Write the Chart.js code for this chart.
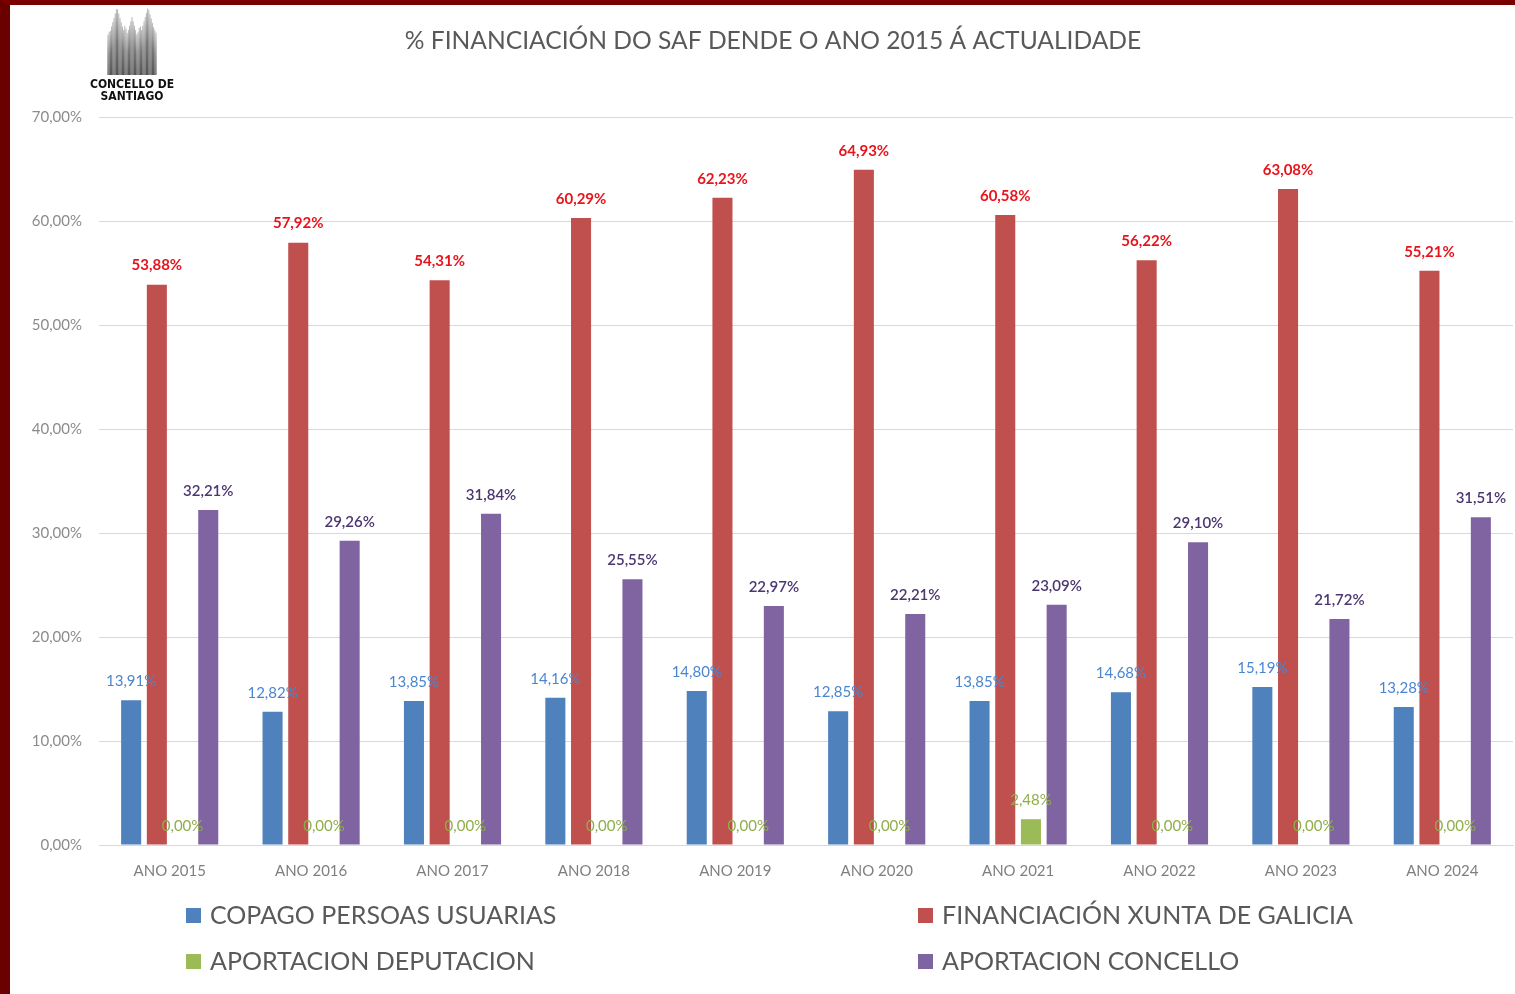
<!DOCTYPE html>
<html>
<head>
<meta charset="utf-8">
<title>Financiación SAF</title>
<script src="https://cdn.jsdelivr.net/npm/chart.js@4/dist/chart.umd.min.js"></script>
<style>
  body { margin: 0; background: #fff; }
  #frame {
    width: 1505px; height: 989px;
    border-left: 10px solid #6a0000;
    border-top: 5px solid #7a0000;
    background: #fff;
  }
</style>
</head>
<body>
<div id="frame"><canvas id="chart" width="1505" height="989"></canvas></div>
<script>
// data
const years = ['ANO 2015', 'ANO 2016', 'ANO 2017', 'ANO 2018', 'ANO 2019',
               'ANO 2020', 'ANO 2021', 'ANO 2022', 'ANO 2023', 'ANO 2024']
const copago     = [13.91, 12.82, 13.85, 14.16, 14.80, 12.85, 13.85, 14.68, 15.19, 13.28]
const xunta      = [53.88, 57.92, 54.31, 60.29, 62.23, 64.93, 60.58, 56.22, 63.08, 55.21]
const deputacion = [0, 0, 0, 0, 0, 0, 2.48, 0, 0, 0]
const concello   = [32.21, 29.26, 31.84, 25.55, 22.97, 22.21, 23.09, 29.10, 21.72, 31.51]
const yTicks = [0, 10, 20, 30, 40, 50, 60, 70]

const FONT = 'Lato, "Open Sans", sans-serif'
const pct = v => v.toFixed(2).replace('.', ',') + '%'

// label styles per series
const labelStyle = [
    { color: '#4a86d0', weight: 'normal' },
    { color: '#e8141c', weight: 'bold' },
    { color: '#8fae4a', weight: 'normal' },
    { color: '#4b3670', weight: '600' },
]

const valueLabels = {
    id: 'valueLabels',
    afterDatasetsDraw(chart) {
        const ctx = chart.ctx
        ctx.save()
        ctx.textAlign = 'center'
        ctx.textBaseline = 'middle'
        chart.data.datasets.forEach((ds, i) => {
            const st = labelStyle[i]
            ctx.fillStyle = st.color
            ctx.font = st.weight + ' 15px ' + FONT
            chart.getDatasetMeta(i).data.forEach((bar, j) => {
                ctx.fillText(pct(ds.data[j]), bar.x, bar.y - 19)
            })
        })
        ctx.restore()
    },
}

// title, logo and the 2x2 legend
const decor = {
    id: 'decor',
    afterDraw(chart) {
        const ctx = chart.ctx
        ctx.save()
        // title
        ctx.fillStyle = '#595959'
        ctx.font = '24.6px ' + FONT
        ctx.textAlign = 'center'
        ctx.textBaseline = 'middle'
        ctx.fillText('% FINANCIACIÓN DO SAF DENDE O ANO 2015 Á ACTUALIDADE', 763, 36)

        // logo: spires made of thin lines
        const base = 70
        const spires = [[99, 26], [107, 2], [115, 20], [122, 12], [130, 20], [138, 2], [145, 24]]
        for (let x = 98; x <= 146; x += 1.2) {
            let top = 40
            spires.forEach(([sx, sy]) => {
                const t = sy + Math.abs(x - sx) * 3.6
                if (t < top) top = t
            })
            const g = ctx.createLinearGradient(0, top, 0, base)
            g.addColorStop(0, '#aaa')
            g.addColorStop(0.5, '#444')
            g.addColorStop(1, '#111')
            ctx.strokeStyle = g
            ctx.lineWidth = 0.8
            ctx.beginPath()
            ctx.moveTo(x, top)
            ctx.lineTo(x, base)
            ctx.stroke()
        }
        ctx.fillStyle = '#111'
        ctx.font = 'bold 12px "DejaVu Sans Condensed", "DejaVu Sans", sans-serif'
        ctx.fillText('CONCELLO DE', 122, 80)
        ctx.fillText('SANTIAGO', 122, 92)

        // legend
        const slots = [[176, 910], [908, 910], [176, 956], [908, 956]]
        ctx.font = '25px ' + FONT
        ctx.textAlign = 'left'
        chart.data.datasets.forEach((ds, k) => {
            const [x, y] = slots[k]
            ctx.fillStyle = ds.backgroundColor
            ctx.fillRect(x, y - 7, 15, 15)
            ctx.fillStyle = '#595959'
            ctx.fillText(ds.label, x + 24, y + 1)
        })
        ctx.restore()
    },
}

new Chart(document.getElementById('chart'), {
    type: 'bar',
    data: {
        labels: years,
        datasets: [
            { label: 'COPAGO PERSOAS USUARIAS', data: copago, backgroundColor: '#4f81bd' },
            { label: 'FINANCIACIÓN XUNTA DE GALICIA', data: xunta, backgroundColor: '#c0504d' },
            { label: 'APORTACION DEPUTACION', data: deputacion, backgroundColor: '#9bbb59' },
            { label: 'APORTACION CONCELLO', data: concello, backgroundColor: '#8064a2' },
        ],
    },
    options: {
        responsive: false,
        animation: false,
        devicePixelRatio: 1,
        layout: { padding: { top: 112, right: 2, left: 0, bottom: 0 } },
        datasets: { bar: { categoryPercentage: 0.727, barPercentage: 0.78 } },
        plugins: {
            legend: { display: false },
            tooltip: { enabled: false },
        },
        scales: {
            x: {
                grid: { display: false, drawTicks: false },
                border: { color: '#d9d9d9', width: 1 },
                ticks: { color: '#7f7f7f', font: { family: FONT, size: 15 }, padding: 17 },
                afterFit(scale) { scale.height = 149 },
            },
            y: {
                min: 0,
                max: 70,
                afterBuildTicks(scale) { scale.ticks = yTicks.map(v => ({ value: v })) },
                grid: { color: '#d9d9d9', drawTicks: false },
                border: { display: false },
                ticks: {
                    color: '#8c8c8c',
                    font: { family: FONT, size: 15 },
                    padding: 17,
                    callback: v => pct(v),
                },
                afterFit(scale) { scale.width = 89 },
            },
        },
    },
    plugins: [valueLabels, decor],
})
</script>
</body>
</html>
